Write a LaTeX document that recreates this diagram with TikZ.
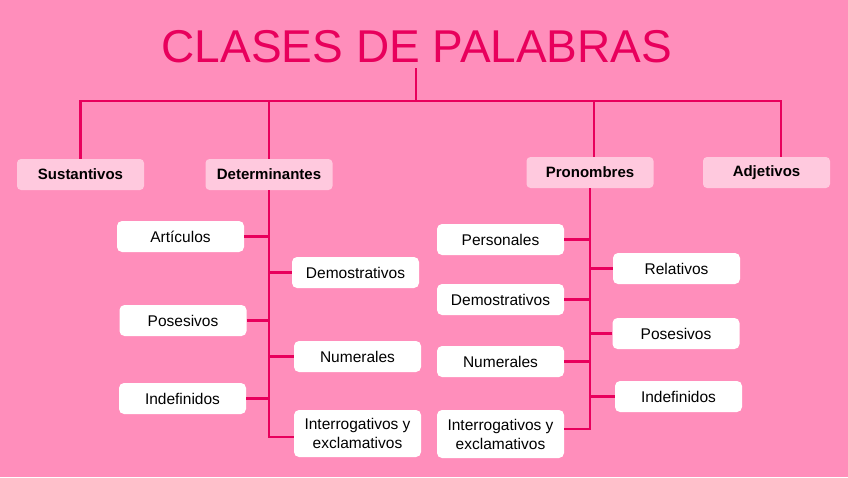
\documentclass[tikz,border=0pt]{standalone}
\usepackage{fontspec}
\setmainfont{Liberation Sans}
\definecolor{bgpink}{HTML}{FF8EBB}
\definecolor{linepink}{HTML}{E8005C}
\definecolor{toppink}{HTML}{FFC9DE}
\tikzset{
  conn/.style={draw=linepink, line width=2.4pt},
  topbox/.style={fill=toppink, rounded corners=4pt, minimum width=127pt, minimum height=31pt, inner sep=0pt, font=\fontsize{15}{18}\selectfont\bfseries},
  subbox/.style={fill=white, rounded corners=5pt, minimum width=127pt, minimum height=31pt, inner sep=0pt, align=center, font=\fontsize{15.5}{19}\selectfont},
}
\begin{document}
\begin{tikzpicture}[x=1pt,y=-1pt]
\fill[bgpink] (0,0) rectangle (848,477);
\useasboundingbox (0,0) rectangle (848,477);

\node[text=linepink, font=\fontsize{46}{50}\selectfont, inner sep=0pt] (title) at (417,47) {CLASES DE PALABRAS};

\node[topbox] (sus) at (80.5,174.5) {Sustantivos};
\node[topbox] (det) at (269,174.5) {Determinantes};
\node[topbox] (pro) at (590,172.5) {Pronombres};
\node[topbox] (adj) at (766.5,172.5) {Adjetivos};

\coordinate (tbot) at (416,68);
\coordinate (hub) at (416,101);
\coordinate (pT) at (594,157);
\coordinate (aT) at (781,157);

\draw[conn] (tbot) -- (hub);
\draw[conn] (hub) -| (sus.north);
\draw[conn] (hub) -| (det.north);
\draw[conn] (hub) -| (pT);
\draw[conn] (hub) -| (aT);

% Determinantes
\node[subbox] (art) at (180.5,236.5) {Artículos};
\node[subbox] (ddem) at (355.5,272.5) {Demostrativos};
\node[subbox] (dpos) at (183,320.5) {Posesivos};
\node[subbox] (dnum) at (357.5,356.5) {Numerales};
\node[subbox] (dind) at (182.5,398.5) {Indefinidos};
\node[subbox, minimum height=47pt] (dint) at (357.5,433.5) {Interrogativos y\\exclamativos};

\coordinate (dend) at (269,437);
\draw[conn] (det.south) -- (dend) -- (dint.west |- dend);
\draw[conn] (art.east) -- (art.east -| det.south);
\draw[conn] (ddem.west) -- (ddem.west -| det.south);
\draw[conn] (dpos.east) -- (dpos.east -| det.south);
\draw[conn] (dnum.west) -- (dnum.west -| det.south);
\draw[conn] (dind.east) -- (dind.east -| det.south);

% Pronombres
\node[subbox] (per) at (500.5,239.5) {Personales};
\node[subbox] (rel) at (676.5,268.5) {Relativos};
\node[subbox] (pdem) at (500.5,299.5) {Demostrativos};
\node[subbox] (ppos) at (676,333.5) {Posesivos};
\node[subbox] (pnum) at (500.5,361.5) {Numerales};
\node[subbox] (pind) at (678.5,396.5) {Indefinidos};
\node[subbox, minimum height=48pt] (pint) at (500.5,434) {Interrogativos y\\exclamativos};

\coordinate (pend) at (590,429);
\draw[conn] (pro.south) -- (pend) -- (pint.east |- pend);
\draw[conn] (per.east) -- (per.east -| pro.south);
\draw[conn] (rel.west) -- (rel.west -| pro.south);
\draw[conn] (pdem.east) -- (pdem.east -| pro.south);
\draw[conn] (ppos.west) -- (ppos.west -| pro.south);
\draw[conn] (pnum.east) -- (pnum.east -| pro.south);
\draw[conn] (pind.west) -- (pind.west -| pro.south);
\end{tikzpicture}
\end{document}
